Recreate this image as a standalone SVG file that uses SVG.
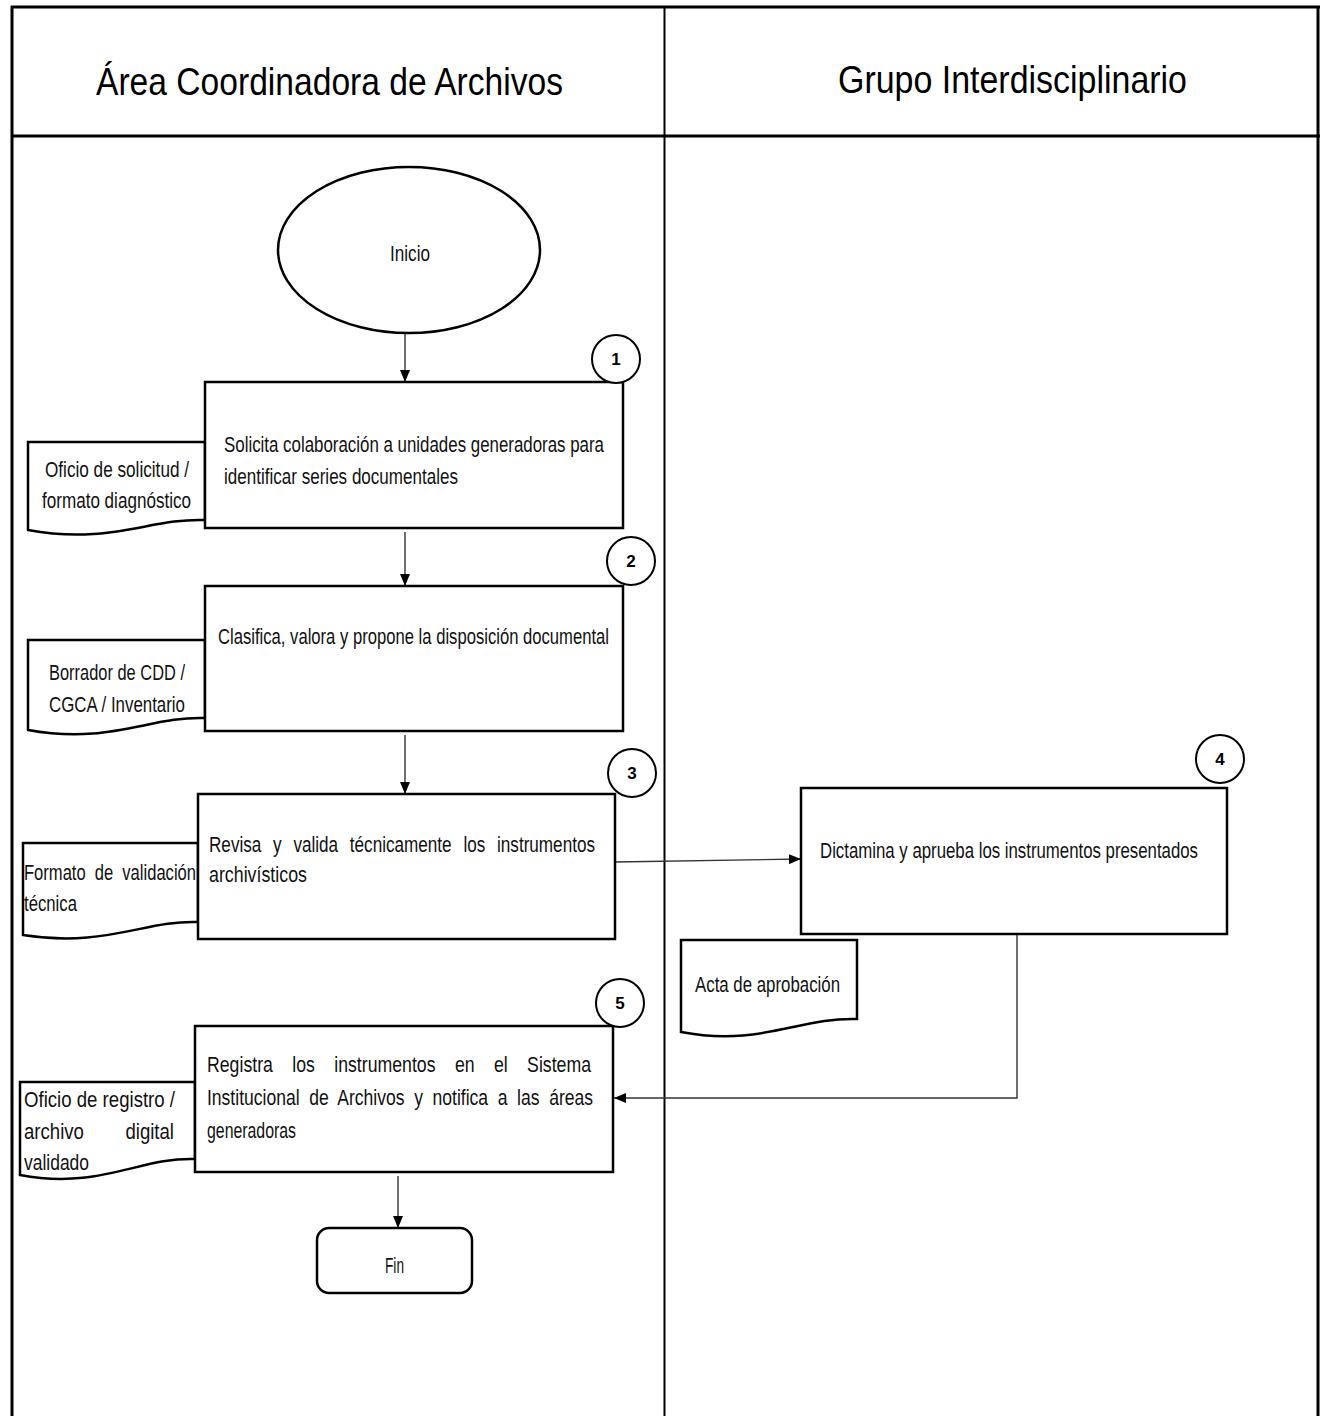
<svg xmlns="http://www.w3.org/2000/svg" width="1320" height="1416" viewBox="0 0 1320 1416">
<style>
.frame{fill:none;stroke:#000;stroke-width:3}
.div{fill:none;stroke:#000;stroke-width:2}
.box{fill:#fff;stroke:#000;stroke-width:2.5}
.doc{fill:#fff;stroke:#000;stroke-width:2.5}
.num{fill:#fff;stroke:#000;stroke-width:2}
.conn{fill:none;stroke:#333;stroke-width:1.4}
.h{font-family:"Liberation Sans Narrow","Liberation Sans",Arial,sans-serif;font-size:39px;fill:#000}
.t{font-family:"Liberation Sans Narrow","Liberation Sans",Arial,sans-serif;font-size:22px;fill:#111}
.n{font-family:"Liberation Sans","Liberation Sans Narrow",Arial,sans-serif;font-size:17px;font-weight:bold;fill:#000;text-anchor:middle}
</style>
<defs>
<marker id="ah" viewBox="0 0 12 10" refX="12" refY="5" markerWidth="12" markerHeight="10" markerUnits="userSpaceOnUse" orient="auto">
<path d="M0,0 L12,5 L0,10 Z" fill="#000"/>
</marker>
</defs>
<rect width="1320" height="1416" fill="#fff"/>
<g id="lanes">
<line class="frame" x1="11" y1="7" x2="1320" y2="7"/>
<line class="frame" x1="12" y1="6" x2="12" y2="1416"/>
<line class="frame" x1="1318" y1="6" x2="1318" y2="1416"/>
<line class="frame" x1="11" y1="136" x2="1320" y2="136"/>
<line class="div" x1="664.5" y1="7" x2="664.5" y2="1416"/>
<text class="h" x="96" y="95" textLength="467" lengthAdjust="spacingAndGlyphs">Área Coordinadora de Archivos</text>
<text class="h" x="838" y="93" textLength="349" lengthAdjust="spacingAndGlyphs">Grupo Interdisciplinario</text>
</g>
<g id="connectors">
<line class="conn" x1="405" y1="334" x2="405" y2="382" marker-end="url(#ah)"/>
<line class="conn" x1="405" y1="532" x2="405" y2="586" marker-end="url(#ah)"/>
<line class="conn" x1="405" y1="735" x2="405" y2="794" marker-end="url(#ah)"/>
<line class="conn" x1="615" y1="862" x2="801" y2="859" marker-end="url(#ah)"/>
<line class="conn" x1="398" y1="1176" x2="398" y2="1228" marker-end="url(#ah)"/>
<path class="conn" d="M1017,934 V1098 H614" marker-end="url(#ah)"/>
</g>
<g id="inicio">
<ellipse class="box" cx="409" cy="250" rx="131" ry="83" stroke-width="2"/>
<text class="t" x="390" y="261" textLength="40" lengthAdjust="spacingAndGlyphs">Inicio</text>
</g>
<g id="doc1">
<path class="doc" d="M28,442 H205 V520 C150,518 110,545 28,530 Z"/>
<text class="t" x="45" y="477" textLength="144" lengthAdjust="spacingAndGlyphs">Oficio de solicitud /</text>
<text class="t" x="42" y="508" textLength="149" lengthAdjust="spacingAndGlyphs">formato diagnóstico</text>
</g>
<g id="step1">
<rect class="box" x="205" y="382" width="418" height="146"/>
<text class="t" x="224" y="452" textLength="380" lengthAdjust="spacingAndGlyphs">Solicita colaboración a unidades generadoras para</text>
<text class="t" x="224" y="484" textLength="234" lengthAdjust="spacingAndGlyphs">identificar series documentales</text>
<circle class="num" cx="616" cy="359" r="24"/>
<text class="n" x="616" y="365">1</text>
</g>
<g id="doc2">
<path class="doc" d="M28,640 H205 V718 C150,716 110,745 28,730 Z"/>
<text class="t" x="49" y="680" textLength="136" lengthAdjust="spacingAndGlyphs">Borrador de CDD /</text>
<text class="t" x="49" y="712" textLength="136" lengthAdjust="spacingAndGlyphs">CGCA / Inventario</text>
</g>
<g id="step2">
<rect class="box" x="205" y="586" width="418" height="145"/>
<text class="t" x="218" y="644" textLength="391" lengthAdjust="spacingAndGlyphs">Clasifica, valora y propone la disposición documental</text>
<circle class="num" cx="631" cy="561" r="24"/>
<text class="n" x="631" y="567">2</text>
</g>
<g id="doc3">
<path class="doc" d="M23,843 H198 V922 C145,920 105,948 23,935 Z"/>
<text class="t" x="24" y="880" textLength="172" lengthAdjust="spacingAndGlyphs" word-spacing="6">Formato de validación</text>
<text class="t" x="24" y="911" textLength="53" lengthAdjust="spacingAndGlyphs">técnica</text>
</g>
<g id="step3">
<rect class="box" x="198" y="794" width="417" height="145"/>
<text class="t" x="209" y="852" textLength="386" lengthAdjust="spacingAndGlyphs" word-spacing="9">Revisa y valida técnicamente los instrumentos</text>
<text class="t" x="209" y="882" textLength="98" lengthAdjust="spacingAndGlyphs">archivísticos</text>
<circle class="num" cx="632" cy="773" r="24"/>
<text class="n" x="632" y="779">3</text>
</g>
<g id="step4">
<rect class="box" x="801" y="788" width="426" height="146"/>
<text class="t" x="820" y="858" textLength="378" lengthAdjust="spacingAndGlyphs">Dictamina y aprueba los instrumentos presentados</text>
<circle class="num" cx="1220" cy="759" r="24"/>
<text class="n" x="1220" y="765">4</text>
</g>
<g id="doc4">
<path class="doc" d="M681,940 H857 V1019 C800,1017 760,1047 681,1032 Z"/>
<text class="t" x="695" y="992" textLength="145" lengthAdjust="spacingAndGlyphs">Acta de aprobación</text>
</g>
<g id="doc5">
<path class="doc" d="M20,1082 H195 V1159 C140,1157 100,1190 20,1175 Z"/>
<text class="t" x="24" y="1107" textLength="151" lengthAdjust="spacingAndGlyphs">Oficio de registro /</text>
<text class="t" x="24" y="1139" textLength="150" lengthAdjust="spacingAndGlyphs" word-spacing="43">archivo digital</text>
<text class="t" x="24" y="1170" textLength="65" lengthAdjust="spacingAndGlyphs">validado</text>
</g>
<g id="step5">
<rect class="box" x="195" y="1026" width="418" height="146"/>
<text class="t" x="207" y="1072" textLength="384" lengthAdjust="spacingAndGlyphs" word-spacing="18">Registra los instrumentos en el Sistema</text>
<text class="t" x="207" y="1105" textLength="386" lengthAdjust="spacingAndGlyphs" word-spacing="6">Institucional de Archivos y notifica a las áreas</text>
<text class="t" x="207" y="1138" textLength="89" lengthAdjust="spacingAndGlyphs">generadoras</text>
<circle class="num" cx="620" cy="1003" r="24"/>
<text class="n" x="620" y="1009">5</text>
</g>
<g id="fin">
<rect class="box" x="317" y="1228" width="155" height="65" rx="12" stroke-width="2"/>
<text class="t" x="385" y="1273" textLength="19" lengthAdjust="spacingAndGlyphs">Fin</text>
</g>
</svg>
